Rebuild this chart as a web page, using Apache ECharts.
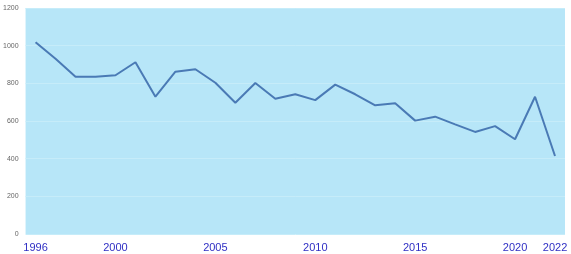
<!DOCTYPE html>
<html>
<head>
<meta charset="utf-8">
<script src="https://cdn.jsdelivr.net/npm/echarts@6/dist/echarts.min.js"></script>
<style>
html,body{margin:0;padding:0;background:#ffffff;}
#chart{width:571px;height:254px;}
</style>
</head>
<body>
<div id="chart"></div>
<script>
const years = ['1996','1997','1998','1999','2000','2001','2002','2003','2004','2005','2006','2007','2008','2009','2010','2011','2012','2013','2014','2015','2016','2017','2018','2019','2020','2021','2022'];
const values = [1018,930,835,835,843,912,729,862,875,803,697,802,718,742,711,793,742,683,694,602,623,582,542,573,503,729,414];
const shownYears = ['1996','2000','2005','2010','2015','2020','2022'];
const yTicks = {min:0, max:1200, interval:200};

const chart = echarts.init(document.getElementById('chart'));
chart.setOption({
  animation:false,
  grid:{left:25,right:6,top:8,bottom:20,show:true,backgroundColor:'#b7e6f8',borderWidth:0},
  xAxis:{
    type:'category',
    data:years,
    boundaryGap:true,
    axisLine:{show:false},
    axisTick:{show:false},
    axisLabel:{
      interval:0,
      color:'#2f2fc4',
      fontFamily:'Liberation Sans, Arial, sans-serif',
      fontSize:11,
      fontWeight:500,
      margin:8,
      formatter:function(v){return shownYears.indexOf(v)>=0?v:'';}
    }
  },
  yAxis:{
    type:'value',
    min:yTicks.min,max:yTicks.max,interval:yTicks.interval,
    axisLine:{show:false},
    axisTick:{show:false},
    splitLine:{lineStyle:{color:'#c6ecf9',width:1}},
    axisLabel:{color:'#666',fontSize:7,margin:7,fontFamily:'Liberation Sans, Arial, sans-serif',
      formatter:function(v){return String(v);}}
  },
  series:[{
    type:'line',
    data:values,
    symbol:'none',
    lineStyle:{color:'#4a7ab5',width:2}
  }]
});
</script>
</body>
</html>
